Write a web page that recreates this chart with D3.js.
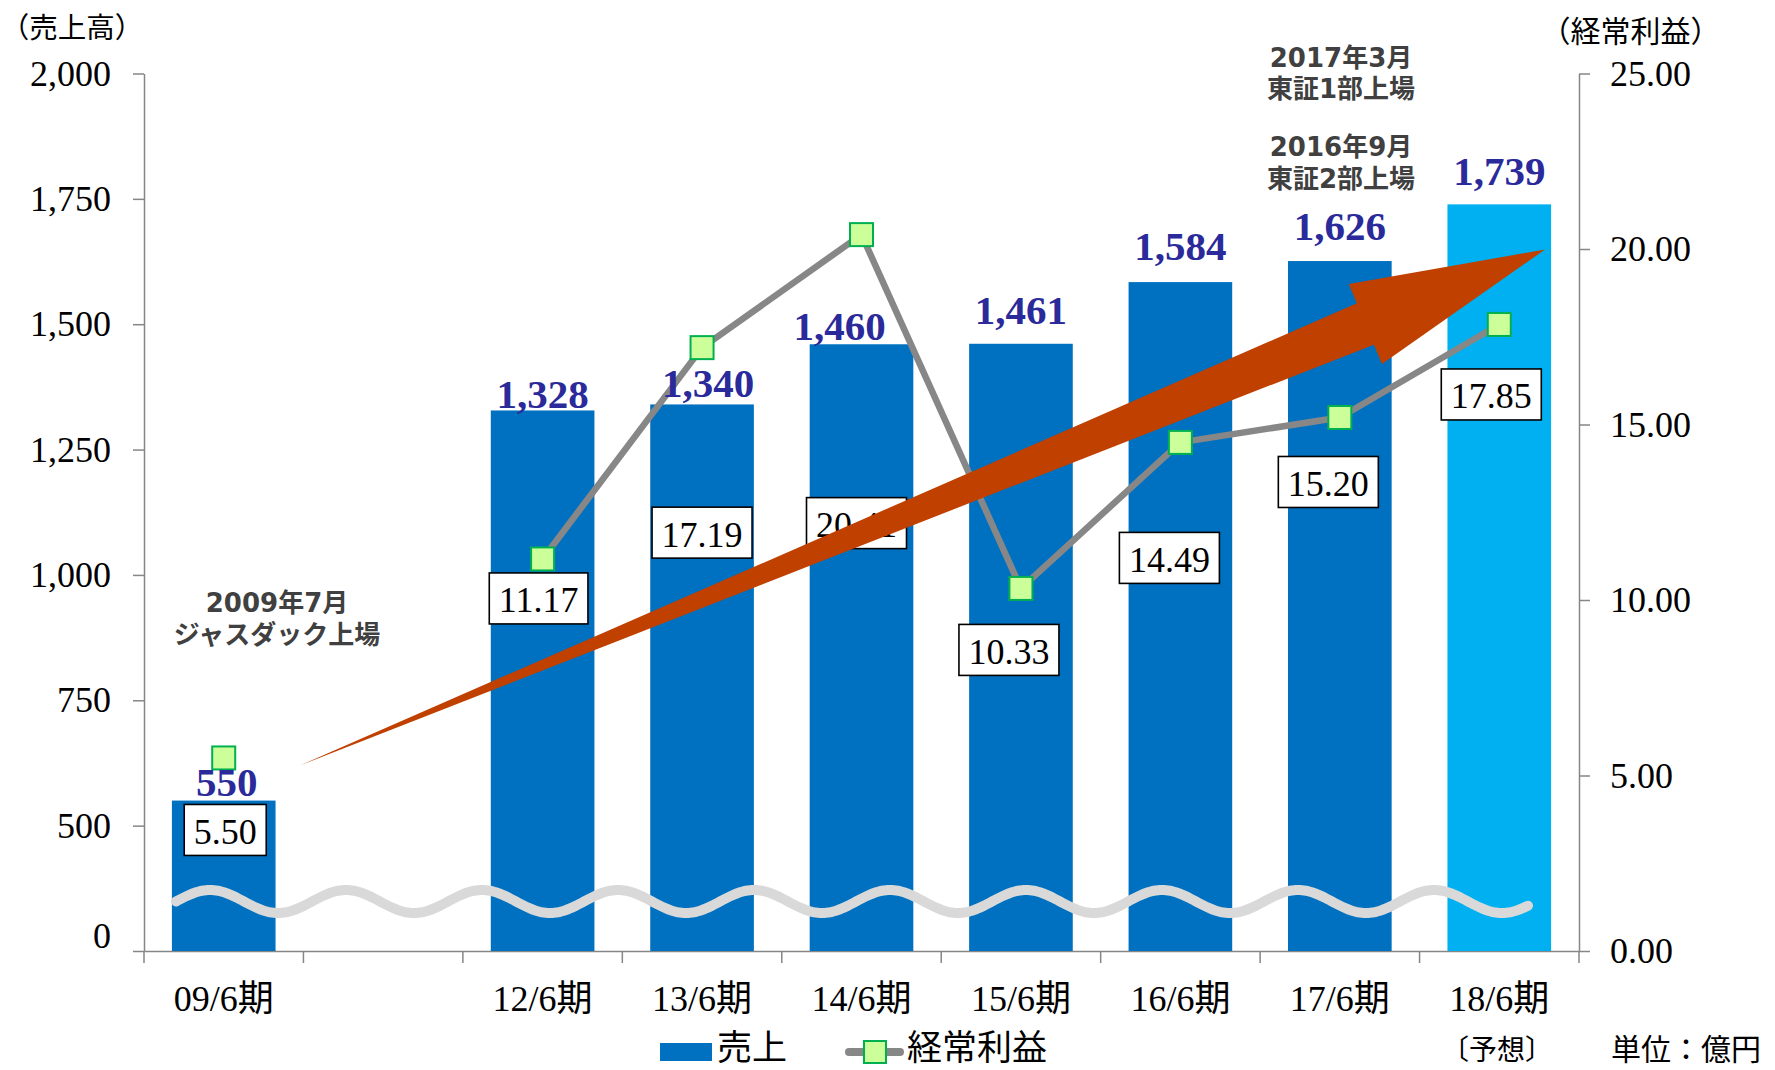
<!DOCTYPE html>
<html><head><meta charset="utf-8">
<script src="https://cdn.jsdelivr.net/npm/d3@7"></script>
<style>html,body{margin:0;padding:0;background:#fff;} svg{display:block;}</style>
</head><body>
<svg id="chart" width="1775" height="1070"></svg>
<script>
// ---------------- data ----------------
const categories = ["09/6期", "", "12/6期", "13/6期", "14/6期", "15/6期", "16/6期", "17/6期", "18/6期"];
const sales = [550, null, 1328, 1340, 1460, 1461, 1584, 1626, 1739];
const salesLabels = ["550", "", "1,328", "1,340", "1,460", "1,461", "1,584", "1,626", "1,739"];
const profit = [5.50, null, 11.17, 17.19, 20.41, 10.33, 14.49, 15.20, 17.85];
const profitLabels = ["5.50", "", "11.17", "17.19", "20.41", "10.33", "14.49", "15.20", "17.85"];
const isForecast = [false, false, false, false, false, false, false, false, true];
const salesTicks = [250, 500, 750, 1000, 1250, 1500, 1750, 2000];
const salesTickLabels = ["0", "500", "750", "1,000", "1,250", "1,500", "1,750", "2,000"];
const profitTicks = [0, 5, 10, 15, 20, 25];
const profitTickLabels = ["0.00", "5.00", "10.00", "15.00", "20.00", "25.00"];
const leftTitle = "（売上高）";
const rightTitle = "（経常利益）";
const legendNames = ["売上", "経常利益"];
const annotationLines = [["2009年7月", "ジャスダック上場"], ["2017年3月", "東証1部上場"], ["2016年9月", "東証2部上場"]];
// trend arrow expressed in (category position, 売上) units
const arrowTail = [0.978, 620];
const arrowTip = [8.787, 1649];

// ---------------- layout (positions / styles) ----------------
const salesLabelOffsets = [[3, 5], [0, 0], [0, 2], [6, 7], [-22, 4], [0, 20], [0, 22], [0, 21], [0, 19]];
const profitLabelOffsets = [[1.5, 72], [0, 0], [-4, 39.5], [0, 185], [-5, 288.5], [-12, 61.5], [-11, 115.5], [-11.5, 64.5], [-8, 70]];
const annotationPos = [[277, 612, 644], [1341, 67, 98], [1341, 156, 188]];

const serif = "'Liberation Serif','Times New Roman','Noto Sans CJK JP',serif";
const sans = "'Noto Sans CJK JP','Noto Sans CJK SC',sans-serif";
const boldSans = "'DejaVu Sans','Noto Sans CJK JP',sans-serif";
const axisColor = "#868686";

const svg = d3.select("#chart");
const L = 144, R = 1579, T = 73.5, B = 951;

const x = d3.scaleBand().domain(categories).range([L, R]).paddingInner(0).paddingOuter(0);
const xc = d3.scaleLinear().domain([0, categories.length]).range([L, R]);
const yL = d3.scaleLinear().domain([250, 2000]).range([B, T]);
const yR = d3.scaleLinear().domain([0, 25]).range([B, T]);
const bw = x.bandwidth() * 0.65;
const idx = d3.range(categories.length);

// ---------------- axes ----------------
const axL = svg.append("g").attr("transform", `translate(${L},0)`)
  .call(d3.axisLeft(yL).tickValues(salesTicks).tickSize(11).tickSizeOuter(0).tickPadding(22)
    .tickFormat((d, i) => salesTickLabels[i]));
axL.selectAll("text").attr("font-family", serif).attr("font-size", 36).attr("fill", "#000").attr("dy", "0.32em");
axL.selectAll("text").filter((d, i) => i === 0).attr("transform", "translate(0,-15)");

const axR = svg.append("g").attr("transform", `translate(${R},0)`)
  .call(d3.axisRight(yR).tickValues(profitTicks).tickSize(11).tickSizeOuter(0).tickPadding(20)
    .tickFormat((d, i) => profitTickLabels[i]));
axR.selectAll("text").attr("font-family", serif).attr("font-size", 36).attr("fill", "#000").attr("dy", "0.32em");

const axX = svg.append("g").attr("transform", `translate(0,${B})`)
  .call(d3.axisBottom(x).tickSize(0).tickSizeOuter(0).tickPadding(0).tickFormat(""));
axX.selectAll(".tick").remove();
axX.selectAll(".bound").data(d3.range(categories.length + 1)).enter().append("line")
  .attr("x1", d => xc(d)).attr("x2", d => xc(d)).attr("y1", 0).attr("y2", 12)
  .attr("stroke", axisColor).attr("stroke-width", 1.5);
axX.selectAll(".cat").data(idx.filter(i => categories[i] !== "")).enter().append("text")
  .attr("x", i => x(categories[i]) + x.bandwidth() / 2).attr("y", 60)
  .attr("text-anchor", "middle").attr("font-family", serif).attr("font-size", 36).attr("fill", "#000")
  .text(i => categories[i]);

[axL, axR, axX].forEach(a => {
  a.selectAll("path.domain").attr("stroke", axisColor).attr("stroke-width", 1.5);
  a.selectAll(".tick line").attr("stroke", axisColor).attr("stroke-width", 1.5);
});

// ---------------- bars ----------------
svg.append("g").selectAll("rect").data(idx.filter(i => sales[i] != null)).enter().append("rect")
  .attr("x", i => x(categories[i]) + (x.bandwidth() - bw) / 2)
  .attr("y", i => yL(sales[i]))
  .attr("width", bw)
  .attr("height", i => B - yL(sales[i]))
  .attr("fill", i => isForecast[i] ? "#00B0F0" : "#0070C0");

// ---------------- axis-break wave (decoration) ----------------
const waveStart = 176, waveEnd = 1528, wavePeriod = 136, waveAmp = 11.5, waveY = 901.5;
const wavePts = d3.range(waveStart, waveEnd + 0.5, 2).map(px => [px, waveY - waveAmp * Math.sin(2 * Math.PI * (px - waveStart) / wavePeriod)]);
svg.append("path").attr("d", d3.line()(wavePts)).attr("fill", "none")
  .attr("stroke", "#D9D9D9").attr("stroke-width", 10).attr("stroke-linecap", "round");

// ---------------- profit line ----------------
const cx = i => x(categories[i]) + x.bandwidth() / 2;
const lineIdx = idx.filter(i => i >= 2);
svg.append("path")
  .attr("d", d3.line().defined(i => profit[i] != null).x(cx).y(i => yR(profit[i]))(lineIdx))
  .attr("fill", "none").attr("stroke", "#878787").attr("stroke-width", 6.5).attr("stroke-linejoin", "round");

const ms = 23;
svg.append("g").selectAll("rect").data(idx.filter(i => profit[i] != null)).enter().append("rect")
  .attr("x", i => cx(i) - ms / 2).attr("y", i => yR(profit[i]) - ms / 2)
  .attr("width", ms).attr("height", ms)
  .attr("fill", "#CCFF99").attr("stroke", "#00B050").attr("stroke-width", 2);

// profit label boxes
const pl = svg.append("g");
idx.filter(i => profit[i] != null).forEach(i => {
  const bx = cx(i) + profitLabelOffsets[i][0];
  const by = yR(profit[i]) + profitLabelOffsets[i][1];
  const g = pl.append("g");
  const r = g.append("rect");
  const t = g.append("text").attr("x", bx).attr("y", by + 14).attr("text-anchor", "middle")
    .attr("font-family", serif).attr("font-size", 36).attr("fill", "#000").text(profitLabels[i]);
  const w = t.node().getComputedTextLength() + 19;
  r.attr("x", bx - w / 2).attr("y", by - 25.5).attr("width", w).attr("height", 51)
    .attr("fill", "#fff").attr("stroke", "#000").attr("stroke-width", 1.6);
});

// sales value labels
svg.append("g").selectAll("text").data(idx.filter(i => sales[i] != null)).enter().append("text")
  .attr("x", i => cx(i) + salesLabelOffsets[i][0])
  .attr("y", i => yL(sales[i]) - salesLabelOffsets[i][1])
  .attr("text-anchor", "middle").attr("font-family", serif).attr("font-weight", "bold")
  .attr("font-size", 41).attr("fill", "#2A2A9A")
  .text(i => salesLabels[i]);

// ---------------- trend arrow ----------------
{
  const tx = xc(arrowTail[0]), ty = yL(arrowTail[1]);
  const px = xc(arrowTip[0]), py = yL(arrowTip[1]);
  const len = Math.hypot(px - tx, py - ty);
  const ux = (px - tx) / len, uy = (py - ty) / len;
  const nx = -uy, ny = ux;
  const headLen = 194.5, headHalf = 43.3, shaftHalf = 22.4;
  const bxp = px - ux * headLen, byp = py - uy * headLen;
  const pts = [
    [tx, ty],
    [bxp - nx * shaftHalf, byp - ny * shaftHalf],
    [bxp - nx * headHalf, byp - ny * headHalf],
    [px, py],
    [bxp + nx * headHalf, byp + ny * headHalf],
    [bxp + nx * shaftHalf, byp + ny * shaftHalf]
  ];
  svg.append("polygon").attr("points", pts.map(p => p.join(",")).join(" ")).attr("fill", "#C04000");
}

// ---------------- annotations ----------------
annotationLines.forEach((lines, k) => {
  const [ax, y1, y2] = annotationPos[k];
  [y1, y2].forEach((yy, j) => {
    svg.append("text").attr("x", ax).attr("y", yy).attr("text-anchor", "middle")
      .attr("font-family", boldSans).attr("font-weight", "bold").attr("font-size", 26)
      .attr("fill", "#404040").text(lines[j]);
  });
});

// axis titles
svg.append("text").attr("x", 72).attr("y", 38).attr("text-anchor", "middle")
  .attr("font-family", sans).attr("font-size", 28.5).attr("fill", "#000").text(leftTitle);
svg.append("text").attr("x", 1630.5).attr("y", 42).attr("text-anchor", "middle")
  .attr("font-family", sans).attr("font-size", 30).attr("fill", "#000").text(rightTitle);

// ---------------- legend ----------------
const lg = svg.append("g");
lg.append("rect").attr("x", 660).attr("y", 1043).attr("width", 52).attr("height", 18).attr("fill", "#0070C0");
lg.append("text").attr("x", 717).attr("y", 1060).attr("font-family", sans).attr("font-size", 35).attr("fill", "#000").text(legendNames[0]);
lg.append("line").attr("x1", 849).attr("x2", 900).attr("y1", 1052).attr("y2", 1052)
  .attr("stroke", "#878787").attr("stroke-width", 8).attr("stroke-linecap", "round");
lg.append("rect").attr("x", 864).attr("y", 1041).attr("width", 22).attr("height", 22)
  .attr("fill", "#CCFF99").attr("stroke", "#00B050").attr("stroke-width", 2);
lg.append("text").attr("x", 907).attr("y", 1060).attr("font-family", sans).attr("font-size", 35).attr("fill", "#000").text(legendNames[1]);

svg.append("text").attr("x", 1497).attr("y", 1060).attr("text-anchor", "middle")
  .attr("font-family", sans).attr("font-size", 28).attr("fill", "#000").text("〔予想〕");
svg.append("text").attr("x", 1611).attr("y", 1060)
  .attr("font-family", sans).attr("font-size", 30).attr("fill", "#000").text("単位：億円");
</script>
</body></html>
